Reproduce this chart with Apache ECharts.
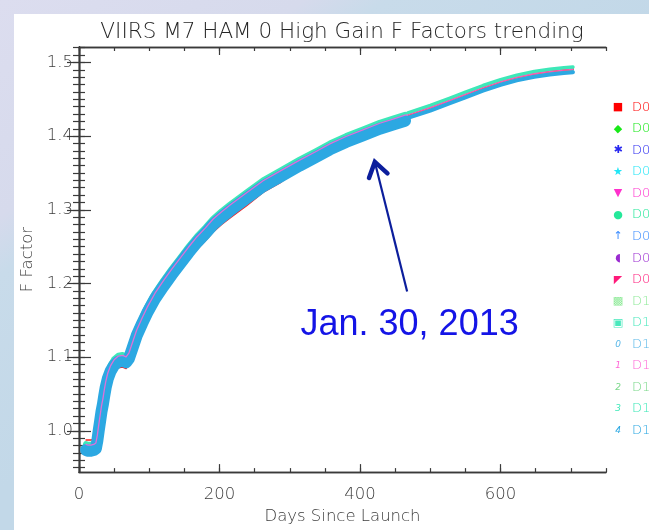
<!DOCTYPE html>
<html>
<head>
<meta charset="utf-8">
<script src="https://cdn.jsdelivr.net/npm/echarts@6/dist/echarts.min.js"></script>
<style>
  html, body { margin: 0; padding: 0; background: #ffffff; }
  #chart { width: 649px; height: 530px; }
</style>
</head>
<body>
<div id="chart"></div>
<script>
// ---- Trending data: F factor vs. days since launch ----
const days = [10, 13, 17, 21, 24, 26, 28, 30, 32, 34, 36, 38, 41, 45, 50, 56, 62, 67, 71, 76,
  82, 90, 97, 108, 120, 132, 144, 156, 168, 180, 191, 203, 215, 239, 262, 286, 314, 336, 357,
  380, 404, 428, 448, 464,
  468, 500, 528, 550, 575, 600, 623, 648, 670, 690, 703];

// upper group of detectors (top edge of the band)
const fUpper = [0.982, 0.981, 0.981, 0.982, 0.984, 0.994, 1.008, 1.021, 1.034, 1.044, 1.056, 1.067,
  1.079, 1.089, 1.097, 1.102, 1.103, 1.101, 1.106, 1.120, 1.137, 1.154, 1.168, 1.187, 1.204,
  1.220, 1.235, 1.250, 1.264, 1.276, 1.288, 1.298, 1.307, 1.324, 1.340, 1.353, 1.368, 1.379,
  1.390, 1.400, 1.409, 1.418, 1.424, 1.429,
  1.4317, 1.4417, 1.4517, 1.4597, 1.4687, 1.4767, 1.4827, 1.4877, 1.4907, 1.4927, 1.4937];

// middle group of detectors
const fMiddle = [0.9815, 0.9805, 0.9805, 0.9815, 0.9835, 0.9935, 1.0075, 1.0205, 1.0335, 1.0435,
  1.0555, 1.0665, 1.0785, 1.0885, 1.0965, 1.1015, 1.1025, 1.1005, 1.1055, 1.1195, 1.1365,
  1.1535, 1.1675, 1.1865, 1.2035, 1.2195, 1.2345, 1.2495, 1.2635, 1.2755, 1.2875, 1.2975,
  1.3065, 1.3235, 1.3395, 1.3525, 1.3675, 1.3785, 1.3895, 1.3995, 1.4085, 1.4175, 1.4235, 1.4285,
  1.4287, 1.4387, 1.4487, 1.4567, 1.4657, 1.4737, 1.4797, 1.4847, 1.4877, 1.4897, 1.4907];

// lower group of detectors
const fLower = [0.974, 0.973, 0.973, 0.974, 0.976, 0.986, 1.000, 1.013, 1.026, 1.036, 1.048, 1.059,
  1.071, 1.081, 1.089, 1.094, 1.095, 1.093, 1.098, 1.112, 1.129, 1.146, 1.160, 1.179, 1.196,
  1.212, 1.227, 1.242, 1.256, 1.268, 1.280, 1.290, 1.299, 1.316, 1.332, 1.345, 1.360, 1.371,
  1.382, 1.392, 1.401, 1.410, 1.416, 1.421,
  1.4247, 1.4347, 1.4447, 1.4527, 1.4617, 1.4697, 1.4757, 1.4807, 1.4837, 1.4857, 1.4867];

// detector D01
const fD01 = [0.9875, 0.9875, 0.9875, 0.9885, 0.974, 0.984, 0.998, 1.011, 1.024, 1.034, 1.046, 1.057,
  1.069, 1.079, 1.087, 1.0855, 1.0865, 1.0845, 1.0895, 1.102, 1.119, 1.136, 1.150, 1.169,
  1.186, 1.202, 1.217, 1.232, 1.246, 1.258, 1.270, 1.280, 1.289, 1.306, 1.3235,
  1.3365, 1.356, 1.367, 1.378, 1.388, 1.397, 1.406, 1.412, 1.417,
  1.4287, 1.4387, 1.4487, 1.4567, 1.4657, 1.4737, 1.4797, 1.4847, 1.4877, 1.4897, 1.4907];

// day after which the daily record is plotted as a thinner trace
const SPLIT_DAY = 466;

const detectors = ['D01', 'D02', 'D03', 'D04', 'D05', 'D06', 'D07', 'D08', 'D09',
  'D10', 'D11', 'D12', 'D13', 'D14', 'D15', 'D16'];
const detectorColors = ['#ff0000', '#18e818', '#2828f0', '#22e6f6', '#ff30cc', '#25e89a',
  '#3a8cff', '#9a2ad0', '#ff1a7a', '#8eea98', '#48e8bc', '#5ab8e8', '#ff66d6', '#7ad88a',
  '#3de8b8', '#2ca8e2'];
const legendGlyphs = ['■', '◆', '✱', '★', '▼', '●', '↑', '◖', '◤', '▩', '▣', '0', '1', '2', '3', '4'];

const xTickValues = [0, 200, 400, 600];
const yTickValues = [1.0, 1.1, 1.2, 1.3, 1.4, 1.5];

const titleText = 'VIIRS M7 HAM 0 High Gain F Factors trending';
const xName = 'Days Since Launch';
const yName = 'F Factor';
const noteText = 'Jan. 30, 2013';
const arrowTip = [421, 1.365];
const arrowTail = [467, 1.189];
const noteAt = [470.5, 1.143];

// ---- helpers ----
const xMinor = [];
for (let v = 0; v <= 750; v += 50) xMinor.push(v);
const yMinor = [];
for (let k = 95; k <= 152; k++) yMinor.push(k / 100);

function pairs(values, part) {
  const out = [];
  days.forEach((d, i) => {
    if (part === 'all' || (part === 'early' && d <= SPLIT_DAY) || (part === 'late' && d > SPLIT_DAY)) {
      out.push([d, values[i]]);
    }
  });
  return out;
}

function lineSeries(name, values, part, width, opacity) {
  const color = detectorColors[detectors.indexOf(name)];
  return {
    name: name,
    type: 'line',
    data: pairs(values, part),
    symbol: 'none',
    silent: true,
    lineStyle: { color: color, width: width, cap: 'round', join: 'round', opacity: opacity || 1 },
    itemStyle: { color: color }
  };
}

const FONT = '"DejaVu Sans", sans-serif';
const AXIS_COLOR = '#3a3a3a';
const TEXT_COLOR = '#3c3c3c';

const series = [];
// detectors hidden inside the band
['D02', 'D03', 'D04', 'D05', 'D06', 'D07', 'D08', 'D09', 'D10', 'D11', 'D12', 'D14']
  .forEach(n => series.push(lineSeries(n, fMiddle, 'all', 2)));
series.push(lineSeries('D01', fD01, 'all', 1.4, 0.9));
series.push(lineSeries('D15', fUpper, 'early', 6));
series.push(lineSeries('D15', fUpper, 'late', 3.5));
series.push(lineSeries('D16', fLower, 'early', 12));
series.push(lineSeries('D16', fLower, 'late', 4));
series.push(lineSeries('D13', fMiddle, 'all', 1.3, 0.85));

function xAxisDef(position, ticks, len, labels) {
  return {
    type: 'value', min: 0, max: 750, position: position,
    axisLine: { show: true, lineStyle: { color: AXIS_COLOR, width: 1.4 } },
    axisTick: { show: true, inside: true, length: len, customValues: ticks,
      lineStyle: { color: AXIS_COLOR, width: 1.2 } },
    axisLabel: labels ? {
      show: true, customValues: xTickValues, margin: 14,
      color: TEXT_COLOR, fontFamily: FONT, fontWeight: 300, fontSize: 16.5,
      formatter: v => String(v)
    } : { show: false },
    splitLine: { show: false },
    name: labels ? xName : '',
    nameLocation: 'middle', nameGap: 34,
    nameTextStyle: { color: TEXT_COLOR, fontFamily: FONT, fontWeight: 300, fontSize: 16.5 }
  };
}

function yAxisDef(position, ticks, len, labels) {
  return {
    type: 'value', min: 0.944, max: 1.521, position: position,
    axisLine: { show: true, lineStyle: { color: AXIS_COLOR, width: 1.4 } },
    axisTick: { show: true, inside: true, length: len, customValues: ticks,
      lineStyle: { color: AXIS_COLOR, width: 1.2 } },
    axisLabel: labels ? {
      show: true, customValues: yTickValues, margin: 6,
      color: TEXT_COLOR, fontFamily: FONT, fontWeight: 300, fontSize: 16.5,
      formatter: v => v.toFixed(1)
    } : { show: false },
    splitLine: { show: false },
    name: labels ? yName : '',
    nameLocation: 'middle', nameGap: 42,
    nameTextStyle: { color: TEXT_COLOR, fontFamily: FONT, fontWeight: 300, fontSize: 16.5 }
  };
}

const chart = echarts.init(document.getElementById('chart'), null, { renderer: 'canvas' });

chart.setOption({
  animation: false,
  backgroundColor: new echarts.graphic.LinearGradient(0, 0, 232, 326, [
    { offset: 0, color: '#dcddef' },
    { offset: 0.44, color: '#d6daec' },
    { offset: 0.56, color: '#c8dbea' },
    { offset: 1, color: '#c2d8e8' }
  ], true),
  grid: { left: 79, right: 43, top: 47, bottom: 49, containLabel: false },
  xAxis: [
    xAxisDef('bottom', xTickValues, 8, true),
    xAxisDef('bottom', xMinor, 4, false),
    xAxisDef('top', xTickValues, 8, false),
    xAxisDef('top', xMinor, 4, false)
  ],
  yAxis: [
    yAxisDef('left', yTickValues, 12, true),
    yAxisDef('left', yMinor, 6, false),
    yAxisDef('right', yTickValues, 12, false),
    yAxisDef('right', yMinor, 6, false)
  ],
  series: series
});

// ---- title, legend, annotation ----
const graphics = [];
graphics.push({
  type: 'rect', z: -100, silent: true,
  shape: { x: 14, y: 14, width: 640, height: 520 },
  style: { fill: '#ffffff' }
});
graphics.push({
  type: 'text', x: 342, y: 32, silent: true,
  style: { text: titleText, fill: '#262626', font: '200 21.5px "DejaVu Sans", sans-serif',
    textAlign: 'center', textVerticalAlign: 'middle' }
});

const legendX = 618, legendTextX = 632, legendY0 = 107.3, legendStep = 21.55;
detectors.forEach((name, i) => {
  const y = legendY0 + i * legendStep;
  const isDigit = i >= 11;
  graphics.push({
    type: 'text', x: legendX, y: y, silent: true,
    style: { text: legendGlyphs[i], fill: detectorColors[i],
      font: (isDigit ? 'italic 9px ' : '11px ') + FONT,
      textAlign: 'center', textVerticalAlign: 'middle' }
  });
  graphics.push({
    type: 'text', x: legendTextX, y: y, silent: true,
    style: { text: name, fill: detectorColors[i], font: '300 13px ' + FONT,
      textAlign: 'left', textVerticalAlign: 'middle' }
  });
});

const tip = chart.convertToPixel({ gridIndex: 0 }, arrowTip);
const tail = chart.convertToPixel({ gridIndex: 0 }, arrowTail);
const note = chart.convertToPixel({ gridIndex: 0 }, noteAt);
const dx = tail[0] - tip[0], dy = tail[1] - tip[1];
const L = Math.hypot(dx, dy);
const ux = dx / L, uy = dy / L;
const armLen = 17, armAng = 34 * Math.PI / 180;
function rot(x, y, a) { return [x * Math.cos(a) - y * Math.sin(a), x * Math.sin(a) + y * Math.cos(a)]; }
const a1 = rot(ux, uy, armAng), a2 = rot(ux, uy, -armAng);
const arrowColor = '#0c1e9c';
graphics.push({
  type: 'line', silent: true,
  shape: { x1: tip[0], y1: tip[1], x2: tail[0], y2: tail[1] },
  style: { stroke: arrowColor, lineWidth: 2.2 }
});
graphics.push({
  type: 'polyline', silent: true,
  shape: { points: [[tip[0] + a1[0] * armLen, tip[1] + a1[1] * armLen], tip,
    [tip[0] + a2[0] * armLen, tip[1] + a2[1] * armLen]] },
  style: { stroke: arrowColor, lineWidth: 4.5, fill: null, lineCap: 'round', lineJoin: 'miter' }
});
graphics.push({
  type: 'text', x: note[0], y: note[1], silent: true,
  style: { text: noteText, fill: '#1414e6', font: '36px "Liberation Sans", Arial, sans-serif',
    textAlign: 'center', textVerticalAlign: 'middle' }
});

chart.setOption({ graphic: graphics });
</script>
</body>
</html>
